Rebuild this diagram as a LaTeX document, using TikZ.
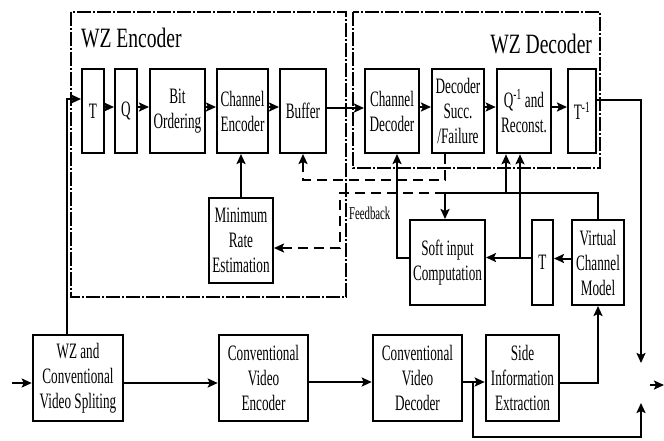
\documentclass[tikz,border=0pt]{standalone}
\usepackage{fontspec}
\setmainfont[FakeStretch=0.6]{Liberation Serif}
\newfontfamily\titlefont[FakeStretch=0.7]{Liberation Serif}
\usetikzlibrary{arrows.meta}

\begin{document}
\begin{tikzpicture}[->,>={Stealth[length=10pt,width=9pt,inset=2pt]},x=1pt,y=-1pt,line width=2pt]
  \tikzstyle{every node}=[font=\fontsize{22}{25}\selectfont,align=center,inner sep=0pt]
  \tikzstyle{blk}=[draw,line width=2pt,minimum height=84pt]
  \tikzstyle{bigblk}=[draw,line width=2.6pt,minimum height=86pt]
  \tikzstyle{fb}=[dash pattern=on 10pt off 6pt]
  \tikzstyle{grp}=[-,line width=1.8pt,dash pattern=on 14pt off 2pt on 2pt off 2pt]
  \tikzstyle{ttl}=[font=\titlefont\fontsize{28}{30}\selectfont]
\useasboundingbox (0,0) rectangle (664,440);
\draw[grp] (71,12) rectangle (346,297);
\draw[grp] (353,12) rectangle (600,168);
\node[ttl,anchor=west] (enc) at (80,38) {WZ Encoder};
\node[ttl,anchor=east] (dec) at (593,44) {WZ Decoder};

\node[blk,minimum width=22pt] (t) at (93,111) {T};
\node[blk,minimum width=22pt] (q) at (126,111) {Q};
\node[blk,minimum width=55pt] (bo) at (177.5,111) {Bit\\Ordering};
\node[blk,minimum width=51pt] (ce) at (242.5,111) {Channel\\Encoder};
\node[blk,minimum width=46pt] (buf) at (303,111) {Buffer};
\node[blk,minimum width=54pt] (cd) at (392,111) {Channel\\Decoder};
\node[blk,minimum width=52pt] (dsf) at (458,111) {Decoder\\Succ.\\/Failure};
\node[blk,line width=2.6pt,minimum width=54pt] (qr) at (524,111) {Q\textsuperscript{-1} and\\Reconst.};
\node[blk,minimum width=28pt] (ti) at (582,111) {T\textsuperscript{-1}};
\node[blk,minimum width=64pt,minimum height=85pt] (mre) at (241,240.5) {Minimum\\Rate\\Estimation};
\node[blk,minimum width=75pt,minimum height=85pt] (sic) at (447.5,262.5) {Soft input\\Computation};
\node[blk,minimum width=21pt,minimum height=85pt] (t2) at (542.5,262.5) {T};
\node[blk,minimum width=52pt,minimum height=85pt] (vcm) at (598,262.5) {Virtual\\Channel\\Model};
\node[bigblk,minimum width=90pt] (split) at (78,378) {WZ and\\Conventional\\Video Spliting};
\node[bigblk,minimum width=89pt] (cve) at (263.5,378) {Conventional\\Video\\Encoder};
\node[bigblk,minimum width=89pt] (cvd) at (417.5,378) {Conventional\\Video\\Decoder};
\node[bigblk,minimum width=73pt] (sie) at (522.5,378) {Side\\Information\\Extraction};
\node[font=\fontsize{18}{20}\selectfont,anchor=west] (fbl) at (348,213) {Feedback};

\coordinate (in) at (12,383);
\coordinate (o1) at (641,363);
\coordinate (o2) at (641,403);
\coordinate (o3) at (650,385);
\coordinate (o4) at (664,385);
\coordinate (fbj) at (445,193);
\coordinate (fbc) at (340,193);
\coordinate (qj) at (506,193);
\coordinate (qk) at (520,257.5);

\draw (in) -- ([yshift=-5pt]split.west);
\draw ([xshift=-11pt]split.north) |- ([yshift=12pt]t.west);
\draw ([yshift=4pt]t.east) -- ([yshift=4pt]q.west);
\draw ([yshift=4pt]q.east) -- ([yshift=4pt]bo.west);
\draw ([yshift=4pt]bo.east) -- ([yshift=4pt]ce.west);
\draw ([yshift=4pt]ce.east) -- ([yshift=4pt]buf.west);
\draw ([yshift=3pt]buf.east) -- ([yshift=3pt]cd.west);
\draw ([yshift=4pt]cd.east) -- ([yshift=4pt]dsf.west);
\draw ([yshift=4pt]dsf.east) -- ([yshift=4pt]qr.west);
\draw ([yshift=4pt]qr.east) -- ([yshift=4pt]ti.west);
\draw ([yshift=11pt]ti.east) -| (o1);
\draw (mre.north) -- (mre.north |- ce.south);
\draw[fb] ([xshift=-13pt]dsf.south) -- ++(0,26) -| (buf.south);
\draw[-] (vcm.north) |- (fbj);
\draw (fbj) -- (fbj |- sic.north);
\draw (qj) -- (qj |- qr.south);
\draw[fb] (fbj) -- (fbc) |- ([yshift=-7.5pt]mre.east);
\draw ([yshift=4pt]vcm.west) -- ([yshift=4pt]t2.east);
\draw ([yshift=5pt]t2.west) -- ([yshift=5pt]sic.east);
\draw (qk) -- (qk |- qr.south);
\draw ([yshift=5pt]sic.west) -| ([xshift=5pt]cd.south);
\draw ([yshift=-5pt]split.east) -- ([yshift=-5pt]cve.west);
\draw ([yshift=-4pt]cve.east) -- ([yshift=-4pt]cvd.west);
\draw ([yshift=-4pt]cvd.east) -- ([yshift=-4pt]sie.west);
\draw ([yshift=-5pt]sie.east) -| (vcm.south);
\draw ([xshift=10pt,yshift=-4pt]cvd.east) -- ++(0,55) -| (o2);
\draw (o3) -- (o4);
\end{tikzpicture}
\end{document}
